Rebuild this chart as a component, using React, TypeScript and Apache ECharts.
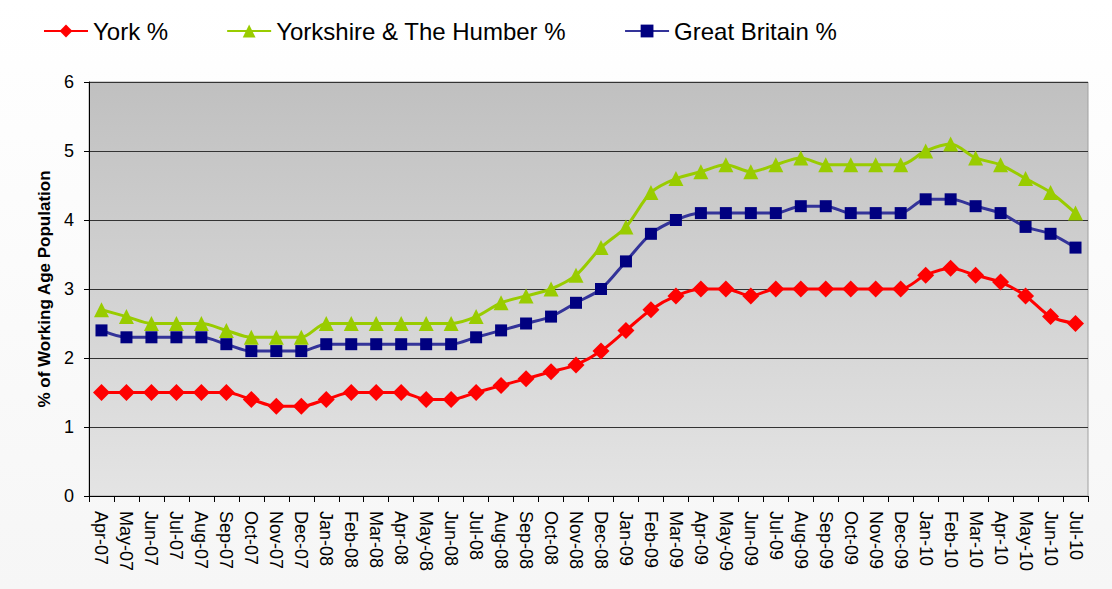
import React, { useEffect, useRef } from "react";
import * as echarts from "echarts";

const months: string[] = [
  "Apr-07", "May-07", "Jun-07", "Jul-07", "Aug-07", "Sep-07", "Oct-07", "Nov-07", "Dec-07",
  "Jan-08", "Feb-08", "Mar-08", "Apr-08", "May-08", "Jun-08", "Jul-08", "Aug-08", "Sep-08", "Oct-08", "Nov-08", "Dec-08",
  "Jan-09", "Feb-09", "Mar-09", "Apr-09", "May-09", "Jun-09", "Jul-09", "Aug-09", "Sep-09", "Oct-09", "Nov-09", "Dec-09",
  "Jan-10", "Feb-10", "Mar-10", "Apr-10", "May-10", "Jun-10", "Jul-10",
];

const york: number[] = [
  1.5, 1.5, 1.5, 1.5, 1.5, 1.5, 1.4, 1.3, 1.3,
  1.4, 1.5, 1.5, 1.5, 1.4, 1.4, 1.5, 1.6, 1.7, 1.8, 1.9, 2.1,
  2.4, 2.7, 2.9, 3.0, 3.0, 2.9, 3.0, 3.0, 3.0, 3.0, 3.0, 3.0,
  3.2, 3.3, 3.2, 3.1, 2.9, 2.6, 2.5,
];

const yorkshire: number[] = [
  2.7, 2.6, 2.5, 2.5, 2.5, 2.4, 2.3, 2.3, 2.3,
  2.5, 2.5, 2.5, 2.5, 2.5, 2.5, 2.6, 2.8, 2.9, 3.0, 3.2, 3.6,
  3.9, 4.4, 4.6, 4.7, 4.8, 4.7, 4.8, 4.9, 4.8, 4.8, 4.8, 4.8,
  5.0, 5.1, 4.9, 4.8, 4.6, 4.4, 4.1,
];

const greatBritain: number[] = [
  2.4, 2.3, 2.3, 2.3, 2.3, 2.2, 2.1, 2.1, 2.1,
  2.2, 2.2, 2.2, 2.2, 2.2, 2.2, 2.3, 2.4, 2.5, 2.6, 2.8, 3.0,
  3.4, 3.8, 4.0, 4.1, 4.1, 4.1, 4.1, 4.2, 4.2, 4.1, 4.1, 4.1,
  4.3, 4.3, 4.2, 4.1, 3.9, 3.8, 3.6,
];

const seriesNames = ["York %", "Yorkshire & The Humber %", "Great Britain %"];
const yAxisTitle = "% of Working Age Population";

export default function App() {
  const ref = useRef<HTMLDivElement>(null);

  useEffect(() => {
    if (!ref.current) return;
    const chart = echarts.init(ref.current, null, { renderer: "svg" });
    const font = "Liberation Sans, Arial, sans-serif";
    chart.setOption({
      animation: false,
      backgroundColor: new echarts.graphic.LinearGradient(0, 0, 0, 1, [
        { offset: 0, color: "#ffffff" },
        { offset: 1, color: "#f6f6f6" },
      ]),
      textStyle: { fontFamily: font },
      legend: {
        left: 38,
        top: 14,
        itemWidth: 44,
        itemHeight: 16,
        itemGap: 58,
        textStyle: { fontSize: 24, color: "#000", fontFamily: font },
        data: seriesNames,
      },
      grid: {
        left: 89,
        right: 24,
        top: 82,
        bottom: 93,
        show: true,
        borderColor: "#a0a0a0",
        borderWidth: 1,
        backgroundColor: new echarts.graphic.LinearGradient(0, 0, 0, 1, [
          { offset: 0, color: "#c0c0c0" },
          { offset: 1, color: "#e4e4e4" },
        ]),
      },
      xAxis: {
        type: "category",
        data: months,
        boundaryGap: true,
        axisLine: { lineStyle: { color: "#000", width: 1 } },
        axisTick: { show: true, interval: 0, length: 6, lineStyle: { color: "#000" } },
        axisLabel: {
          interval: 0,
          rotate: -90,
          margin: 15,
          fontSize: 18,
          color: "#000",
          fontFamily: font,
        },
      },
      yAxis: {
        type: "value",
        min: 0,
        max: 6,
        interval: 1,
        name: yAxisTitle,
        nameLocation: "middle",
        nameGap: 36,
        nameRotate: 90,
        nameTextStyle: { fontSize: 17, fontWeight: "bold", color: "#000", fontFamily: font },
        axisLine: { show: true, lineStyle: { color: "#000", width: 1 } },
        axisTick: { show: true, length: 5, lineStyle: { color: "#000" } },
        axisLabel: { fontSize: 18, color: "#000", margin: 15, fontFamily: font },
        splitLine: { show: true, lineStyle: { color: "#333", width: 1 } },
      },
      series: [
        {
          name: seriesNames[0],
          type: "line",
          data: york,
          smooth: 0.3,
          symbol: "diamond",
          symbolSize: 17,
          lineStyle: { color: "#ff0000", width: 3 },
          itemStyle: { color: "#ff0000" },
          z: 4,
        },
        {
          name: seriesNames[1],
          type: "line",
          data: yorkshire,
          smooth: 0.3,
          symbol: "triangle",
          symbolSize: 15,
          lineStyle: { color: "#99cc00", width: 3 },
          itemStyle: { color: "#99cc00" },
          z: 3,
        },
        {
          name: seriesNames[2],
          type: "line",
          data: greatBritain,
          smooth: 0.3,
          symbol: "rect",
          symbolSize: 12,
          lineStyle: { color: "#333399", width: 3 },
          itemStyle: { color: "#000080" },
          z: 3,
        },
      ],
    });
    return () => chart.dispose();
  }, []);

  return (
    <div
      ref={ref}
      style={{ position: "fixed", left: 0, top: 0, width: 1112, height: 589 }}
    />
  );
}
